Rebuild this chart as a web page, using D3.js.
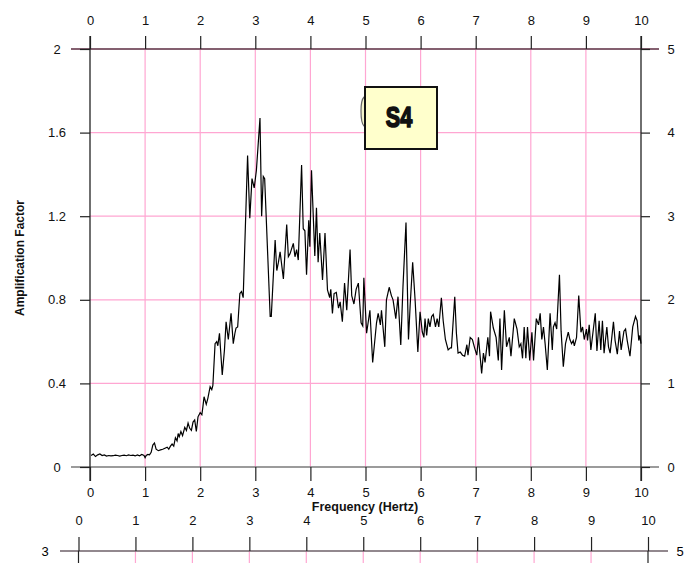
<!DOCTYPE html>
<html><head><meta charset="utf-8">
<script src="https://cdn.jsdelivr.net/npm/d3@7"></script>
<style>
html,body{margin:0;padding:0;background:#fff;}
text{font-family:"Liberation Sans",Arial,sans-serif;}
</style></head>
<body><svg id="c" width="691" height="563"></svg>
<script>
const freq = [0.02,0.06,0.1,0.14,0.18,0.22,0.26,0.3,0.34,0.38,0.42,0.46,0.5,0.54,0.58,0.62,0.66,0.7,0.74,0.78,0.82,0.86,0.9,0.94,0.98,1.0,
1.02,1.05,1.08,1.11,1.14,1.17,1.2,1.24,1.28,1.32,1.36,1.4,1.43,1.46,1.49,1.52,1.55,1.58,1.6,1.62,1.65,1.68,1.72,1.75,1.78,1.81,1.84,1.87,1.9,1.93,1.96,2.0,
2.03,2.05,2.07,2.11,2.14,2.18,2.21,2.23,2.27,2.3,2.32,2.35,2.4,2.44,2.47,2.51,2.56,2.6,2.63,2.65,2.68,2.72,2.75,2.78,2.86,2.9,2.94,2.98,3.02,3.085,3.115,3.145,3.17,
3.27,3.29,3.36,3.39,3.42,3.45,3.51,3.57,3.6,3.63,3.69,3.72,3.75,3.78,3.84,3.87,3.9,3.93,3.97,3.99,4.02,4.08,4.11,4.14,4.17,4.22,4.265,4.31,4.35,4.37,4.4,4.43,4.47,
4.51,4.54,4.58,4.62,4.66,4.72,4.75,4.79,4.83,4.87,4.92,4.95,4.97,5.02,5.08,5.13,5.2,5.23,5.27,5.29,5.35,5.38,5.43,5.47,5.5,5.55,5.59,5.64,5.68,5.735,5.78,5.81,
5.856,5.9,5.95,5.99,6.03,6.06,6.08,6.11,6.14,6.17,6.2,6.23,6.27,6.3,6.33,6.377,6.41,6.45,6.5,6.54,6.56,6.62,6.65,6.68,6.72,6.76,6.8,6.84,6.86,6.9,6.94,6.98,
7.02,7.05,7.108,7.14,7.17,7.22,7.25,7.27,7.32,7.37,7.41,7.44,7.47,7.52,7.56,7.61,7.64,7.7,7.75,7.79,7.82,7.85,7.88,7.91,7.94,7.98,8.02,8.05,8.1,8.14,8.17,8.2,
8.23,8.26,8.3,8.35,8.39,8.41,8.44,8.47,8.52,8.55,8.59,8.63,8.68,8.71,8.74,8.77,8.79,8.83,8.87,8.91,8.94,8.97,9.01,9.03,9.06,9.09,9.14,9.17,9.2,9.24,9.27,9.3,
9.33,9.38,9.41,9.44,9.5,9.53,9.57,9.61,9.64,9.69,9.72,9.75,9.8,9.85,9.9,9.93,9.96,9.98,10.0];
const amp = [0.055,0.062,0.05,0.058,0.062,0.055,0.058,0.052,0.055,0.053,0.054,0.057,0.055,0.052,0.055,0.057,0.054,0.058,0.055,0.057,0.053,0.058,0.054,0.06,0.055,0.045,
0.055,0.06,0.058,0.07,0.105,0.115,0.085,0.078,0.082,0.085,0.09,0.095,0.085,0.1,0.11,0.1,0.14,0.125,0.16,0.145,0.17,0.15,0.19,0.175,0.21,0.185,0.175,0.215,0.225,0.17,0.24,0.26,
0.25,0.29,0.336,0.30,0.33,0.384,0.37,0.39,0.59,0.6,0.58,0.64,0.44,0.56,0.695,0.61,0.735,0.59,0.64,0.665,0.67,0.83,0.84,0.81,1.49,1.19,1.38,1.335,1.42,1.67,1.2,1.39,1.38,
0.72,0.72,1.086,0.94,0.98,1.03,0.9,1.16,1.006,1.02,1.07,1.006,1.04,0.99,1.445,1.14,1.13,0.92,1.18,1.054,1.42,1.01,1.24,0.98,1.12,0.895,1.12,0.847,0.81,0.85,0.735,0.83,0.835,
0.76,0.79,0.695,0.88,0.75,1.04,0.82,0.78,0.85,0.88,0.69,0.675,0.905,0.64,0.75,0.5,0.69,0.735,0.68,0.75,0.575,0.8,0.86,0.82,0.8,0.71,0.815,0.584,0.862,1.17,0.61,0.77,
0.98,0.8,0.55,0.743,0.647,0.62,0.71,0.63,0.71,0.67,0.72,0.73,0.67,0.71,0.67,0.81,0.7,0.61,0.56,0.57,0.57,0.815,0.64,0.545,0.55,0.535,0.53,0.585,0.535,0.62,0.61,0.57,
0.535,0.62,0.448,0.545,0.5,0.62,0.53,0.743,0.665,0.62,0.51,0.71,0.464,0.75,0.575,0.62,0.53,0.71,0.66,0.575,0.59,0.52,0.67,0.52,0.67,0.51,0.645,0.51,0.71,0.68,0.735,0.61,
0.67,0.59,0.464,0.735,0.56,0.67,0.69,0.66,0.92,0.65,0.48,0.59,0.645,0.61,0.59,0.605,0.58,0.62,0.82,0.645,0.67,0.61,0.66,0.605,0.68,0.56,0.67,0.735,0.555,0.70,0.56,0.70,
0.545,0.67,0.575,0.545,0.695,0.605,0.54,0.65,0.56,0.65,0.66,0.605,0.53,0.67,0.72,0.70,0.605,0.63,0.59];
const xTicks = [0,1,2,3,4,5,6,7,8,9,10];
const yLeftTicks = [0,0.4,0.8,1.2,1.6,2];
const yLeftLabels = ["0","0.4","0.8","1.2","1.6","2"];
const yRightTicks = [0,1,2,3,4,5];
const labelText = "S4";
const xTitle = "Frequency (Hertz)";
const yTitle = "Amplification Factor";
const axis2Left = "3", axis2Right = "5";

const svg = d3.select("#c");
const x = d3.scaleLinear().domain([0,10]).range([90,641]);
const yL = d3.scaleLinear().domain([0,2]).range([467,49]);
const yR = d3.scaleLinear().domain([0,5]).range([467,49]);
const x2 = d3.scaleLinear().domain([0,10]).range([78.5,648]);
const pink = "#ffa6d2";

const g = svg.append("g");
g.selectAll(".vg").data(xTicks.slice(1,-1)).join("line")
  .attr("x1",d=>x(d)).attr("x2",d=>x(d)).attr("y1",yL(2)).attr("y2",yL(0))
  .attr("stroke",pink).attr("stroke-width",1.2);
g.selectAll(".hg").data(yLeftTicks.slice(1,-1)).join("line")
  .attr("x1",x(0)).attr("x2",x(10)).attr("y1",d=>yL(d)).attr("y2",d=>yL(d))
  .attr("stroke",pink).attr("stroke-width",1.2);

g.append("line").attr("x1",71).attr("x2",659).attr("y1",yL(2)).attr("y2",yL(2)).attr("stroke","#846070").attr("stroke-width",1.8);
g.append("line").attr("x1",71).attr("x2",659).attr("y1",yL(0)).attr("y2",yL(0)).attr("stroke","#7a7a7a").attr("stroke-width",1.6);
[0,10].forEach(v=>g.append("line").attr("x1",x(v)).attr("x2",x(v)).attr("y1",36).attr("y2",481).attr("stroke","#222").attr("stroke-width",1.3));

const axTop = svg.append("g").attr("transform",`translate(0,${yL(2)})`)
  .call(d3.axisTop(x).tickValues(xTicks).tickSize(13).tickPadding(11).tickFormat(d3.format("d")));
const axBot = svg.append("g").attr("transform",`translate(0,${yL(0)})`)
  .call(d3.axisBottom(x).tickValues(xTicks).tickSize(14).tickPadding(6.5).tickFormat(d3.format("d")));
const axLeft = svg.append("g").attr("transform",`translate(${x(0)},0)`)
  .call(d3.axisLeft(yL).tickValues(yLeftTicks).tickSize(10).tickFormat((d,i)=>yLeftLabels[i]));
axLeft.selectAll("text").attr("text-anchor","middle").attr("x",-33);
const axRight = svg.append("g").attr("transform",`translate(${x(10)},0)`)
  .call(d3.axisRight(yR).tickValues(yRightTicks).tickSize(9).tickFormat(d3.format("d")));
axRight.selectAll("text").attr("text-anchor","middle").attr("x",30);

[axTop,axBot,axLeft,axRight].forEach(a=>{
  a.select(".domain").remove();
  a.selectAll(".tick line").attr("stroke","#222").attr("stroke-width",1.2);
  a.selectAll("text").attr("font-size",13).attr("fill","#111").attr("font-family","'Liberation Sans',Arial,sans-serif");
});

// second axis (bottom)
const ax2y = 551;
svg.append("g").selectAll("line").data(xTicks.slice(1,-1)).join("line")
  .attr("x1",d=>x2(d)).attr("x2",d=>x2(d)).attr("y1",ax2y).attr("y2",563).attr("stroke",pink).attr("stroke-width",1.2);
svg.append("line").attr("x1",60).attr("x2",668).attr("y1",ax2y).attr("y2",ax2y).attr("stroke","#6e6068").attr("stroke-width",1.6);
const a2 = svg.append("g").attr("transform",`translate(0,${ax2y})`)
  .call(d3.axisTop(x2).tickValues(xTicks).tickSize(14).tickPadding(12).tickFormat(d3.format("d")));
a2.select(".domain").remove();
a2.selectAll(".tick line").attr("stroke","#222").attr("stroke-width",1.2);
a2.selectAll(".tick text").attr("font-size",13).attr("fill","#111");
svg.append("g").selectAll("line").data([0,10]).join("line")
  .attr("x1",d=>x2(d)).attr("x2",d=>x2(d)).attr("y1",ax2y).attr("y2",563).attr("stroke","#222").attr("stroke-width",1.2);
svg.append("text").attr("x",45).attr("y",ax2y+5).attr("text-anchor","middle").attr("font-size",13).text(axis2Left);
svg.append("text").attr("x",680).attr("y",ax2y+5).attr("text-anchor","middle").attr("font-size",13).text(axis2Right);

svg.append("text").attr("x",365).attr("y",511).attr("text-anchor","middle")
  .attr("font-size",12.5).attr("font-weight","bold").attr("fill","#111").text(xTitle);
svg.append("text").attr("transform","translate(24,258) rotate(-90)").attr("text-anchor","middle")
  .attr("font-size",12).attr("font-weight","bold").attr("fill","#111").text(yTitle);

const line = d3.line().x((d,i)=>x(freq[i])).y(d=>yL(d));
svg.append("path").datum(amp).attr("d",line).attr("fill","none").attr("stroke","#000").attr("stroke-width",1.2);

svg.append("path").attr("d","M366,97 L364,97 Q361,100 361,111 Q361,123 364,126 L366,126 Z")
  .attr("fill","#f4f4cc").attr("stroke","#666").attr("stroke-width",1.2);
svg.append("rect").attr("x",365).attr("y",87).attr("width",72).attr("height",62)
  .attr("fill","#ffffcc").attr("stroke","#111").attr("stroke-width",2);
svg.append("text").attr("transform","translate(399,127) scale(0.72,1)").attr("text-anchor","middle")
  .attr("font-family","'Liberation Sans',Arial,sans-serif")
  .attr("font-weight","bold").attr("font-size",30).attr("fill","#111")
  .attr("stroke","#111").attr("stroke-width",1.7).attr("stroke-linejoin","round").text(labelText);
</script></body></html>
